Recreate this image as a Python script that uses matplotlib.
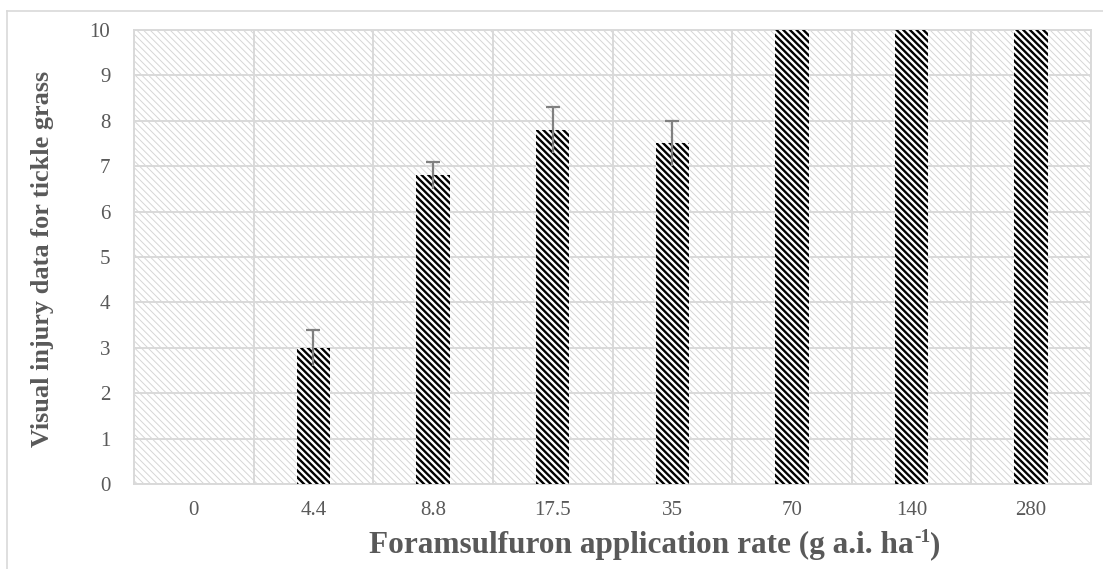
import matplotlib
matplotlib.use("Agg")
import matplotlib.pyplot as plt
import numpy as np
from matplotlib.patches import Rectangle
from matplotlib.lines import Line2D

categories = ["0", "4.4", "8.8", "17.5", "35", "70", "140", "280"]
values = [0, 3.0, 6.8, 7.8, 7.5, 10, 10, 10]
errors = [0, 0.4, 0.3, 0.5, 0.5, 0, 0, 0]
yticks = [0, 1, 2, 3, 4, 5, 6, 7, 8, 9, 10]
xlabel_main = "Foramsulfuron application rate (g a.i. ha"
xlabel_sup = "-1"
xlabel_end = ")"
ylabel = "Visual injury data for tickle grass"

W, H = 1103, 569
fig = plt.figure(figsize=(W / 100, H / 100), dpi=100)
plt.rcParams['font.family'] = ['Liberation Serif', 'DejaVu Serif']

left, right, top, bottom = 134, 1091, 30, 484
ax = fig.add_axes([left / W, 1 - bottom / H, (right - left) / W, (bottom - top) / H])

grid_c = '#d9d9d9'
txt_c = '#595959'

# background hatch
plt.rcParams['hatch.linewidth'] = 0.7
ax.patch.set_facecolor('white')
bg = Rectangle((0, 0), 1, 1, transform=ax.transAxes, facecolor='white',
               edgecolor='#d6d6d6', hatch='\\\\\\\\\\', linewidth=0, zorder=0)
if hasattr(bg, 'set_hatch_linewidth'):
    bg.set_hatch_linewidth(0.7)
ax.add_patch(bg)

plt.rcParams['hatch.linewidth'] = 1.7
x = np.arange(len(categories))
bars = ax.bar(x, values, width=0.28, facecolor='white', edgecolor='black',
              hatch='\\\\\\\\\\', linewidth=0, zorder=3)
for b in bars:
    if hasattr(b, 'set_hatch_linewidth'):
        b.set_hatch_linewidth(1.7)

vals = np.array(values)
errs = np.array(errors)
mask = errs > 0
ax.errorbar(x[mask], vals[mask], yerr=errs[mask], fmt='none', ecolor='#808080',
            elinewidth=1.6, capsize=0, zorder=4)
ax.plot(x[mask], (vals + errs)[mask], linestyle='none', marker='_', markersize=10,
        markeredgewidth=1.6, color='#808080', zorder=4)

ax.set_xlim(-0.5, len(categories) - 0.5)
ax.set_ylim(0, 10)
ax.set_yticks(yticks)
ax.set_yticklabels([str(t) for t in yticks])
ax.set_xticks(x)
ax.set_xticklabels(categories)
ax.set_xticks(np.arange(len(categories) + 1) - 0.5, minor=True)
ax.tick_params(axis='both', which='both', length=0)
ax.tick_params(axis='y', pad=17, labelsize=15, labelcolor=txt_c)
ax.tick_params(axis='x', pad=12, labelsize=15, labelcolor=txt_c)
ax.grid(axis='y', which='major', color=grid_c, linewidth=1.4, zorder=1)
ax.grid(axis='x', which='minor', color=grid_c, linewidth=1.4, zorder=1)
ax.grid(axis='x', which='major', visible=False)
ax.set_axisbelow(True)
for s in ax.spines.values():
    s.set_color(grid_c)
    s.set_linewidth(1.4)

fig.canvas.draw()
renderer = fig.canvas.get_renderer()

# x axis title built from pieces (hyphen superscript)
fs_x = 22.5
base_y = 1 - 553 / H
t1 = fig.text(0, base_y, xlabel_main, ha='left', va='baseline', fontsize=fs_x,
              fontweight='bold', color=txt_c)
t2 = fig.text(0, base_y + 11 / H, xlabel_sup, ha='left', va='baseline', fontsize=fs_x * 0.62,
              fontweight='bold', color=txt_c)
t3 = fig.text(0, base_y, xlabel_end, ha='left', va='baseline', fontsize=fs_x,
              fontweight='bold', color=txt_c)
w1 = t1.get_window_extent(renderer).width
w2 = t2.get_window_extent(renderer).width
w3 = t3.get_window_extent(renderer).width
total = w1 + w2 + w3
x0 = 655 - total / 2
t1.set_x(x0 / W)
t2.set_x((x0 + w1) / W)
t3.set_x((x0 + w1 + w2) / W)

yl = fig.text(43 / W, 1 - 259 / H, ylabel, ha='center', va='center', rotation=90,
              fontsize=18, fontweight='bold', color=txt_c)
for _ in range(3):
    bb = yl.get_window_extent(renderer)
    yl.set_fontsize(yl.get_fontsize() * 375 / bb.height)

# outer chart border (left and top visible)
fig.add_artist(Line2D([7 / W, 7 / W], [0, 1 - 10.5 / H], color=grid_c, linewidth=1.2,
                      transform=fig.transFigure))
fig.add_artist(Line2D([7 / W, 1], [1 - 10.5 / H, 1 - 10.5 / H], color=grid_c, linewidth=1.2,
                      transform=fig.transFigure))

fig.savefig("out.png", dpi=100)
